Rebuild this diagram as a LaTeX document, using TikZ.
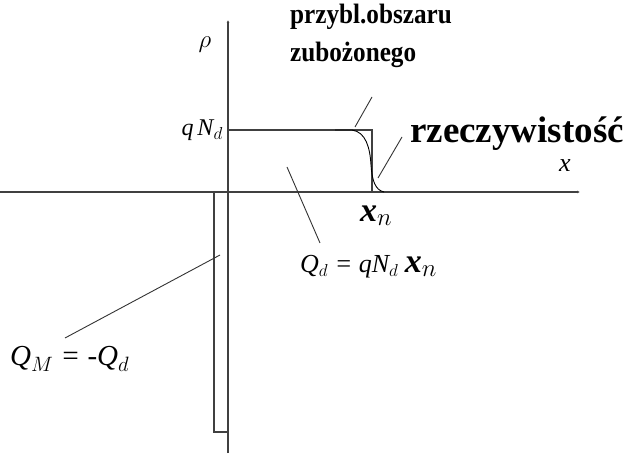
\documentclass[tikz,border=0pt]{standalone}
\usepackage{fontspec}
\setmainfont{Liberation Serif}
\usetikzlibrary{arrows.meta,positioning}
\tikzset{
  axis/.style={line width=1.6pt, draw=black!75, -{Latex[length=3pt,width=3pt]}},
  chargebox/.style={line width=1.5pt, draw=black!75},
  leader/.style={line width=0.9pt, draw=black!80},
  bold/.style={font=\fontsize{28}{38}\selectfont\bfseries, inner sep=0pt},
  mlabel/.style={font=\fontsize{24}{26}\selectfont\itshape, inner sep=0pt}
}
\newcommand{\bigxn}{{\fontsize{34}{36}\selectfont\bfseries\itshape x$_n$}}
\begin{document}
\begin{tikzpicture}[x=1pt,y=-1pt]
  \useasboundingbox (0,0) rectangle (635,454);
  % axes
  \coordinate (o) at (228,192);
  \draw[axis] (0,192) -- (580,192);
  \draw[axis] (228,453) -- (228,20);
  % charge density
  \draw[chargebox] (228,130) -- (372,130) -- (372,192);
  \draw[chargebox] (228,192) -- (214,192) -- (214,432) -- (228,432);
  \draw[line width=0.9pt] (335,130) -- (352,130) .. controls (366,132) and (370,148) .. (371,165)
    .. controls (372,180) and (375,190) .. (384,192);
  % labels
  \node[mlabel, font=\fontsize{30}{32}\selectfont] (rho) at (205,45) {$\rho$};
  \node[mlabel, font=\fontsize{26}{28}\selectfont\itshape] (xlab) at (565,166) {x};
  \node[mlabel, anchor=base east] (qnd) at (223,136) {q\,N$_d$};
  \node[inner sep=0pt, anchor=base west] (xn) at (360,222) {\bigxn};
  \node[bold, xscale=0.9, align=left, anchor=north west] (approx) at (290,4) {przybl.obszaru\\zubożonego};
  \node[bold, font=\fontsize{37}{39}\selectfont\bfseries, anchor=base west] (real) at (410,143) {rzeczywistość};
  \node[mlabel, font=\fontsize{26}{28}\selectfont\itshape, anchor=base west] (qd) at (300,273) {Q$_d$ = qN$_d$ \bigxn};
  \node[mlabel, font=\fontsize{29}{31}\selectfont\itshape, anchor=base west] (qm) at (10,366) {Q$_M$ = -Q$_d$};
  % leaders
  \coordinate (approxtail) at (372,97);
  \coordinate (approxtip) at (355,127);
  \coordinate (realtail) at (402,137);
  \coordinate (realtip) at (378,178);
  \coordinate (qdtail) at (320,243);
  \coordinate (qdtip) at (287,167);
  \coordinate (qmtail) at (65,338);
  \coordinate (qmtip) at (220,255);
  \draw[leader] (approxtail) -- (approxtip);
  \draw[leader] (realtail) -- (realtip);
  \draw[leader] (qdtail) -- (qdtip);
  \draw[leader] (qmtail) -- (qmtip);
\end{tikzpicture}
\end{document}
